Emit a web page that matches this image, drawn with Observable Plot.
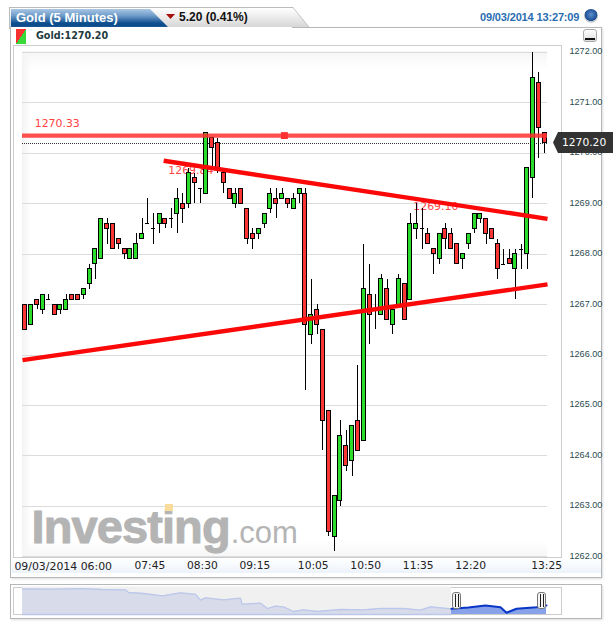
<!DOCTYPE html>
<html><head><meta charset="utf-8">
<script src="https://cdn.jsdelivr.net/npm/d3@7"></script>
<script src="https://cdn.jsdelivr.net/npm/@observablehq/plot@0.6"></script>
<style>
html,body{margin:0;padding:0;background:#fff}
#root{position:relative;width:613px;height:627px;overflow:hidden;background:#fff;font-family:"Liberation Sans",Arial,sans-serif}
#root>div,#root>svg,#root>figure{position:absolute;box-sizing:border-box;margin:0}
#root svg{background:transparent}
.wm{letter-spacing:-0.9px}
</style></head><body><div id="root">
<div style="left:9px;top:7px;width:302px;height:22px;background:#b9bcbc;clip-path:polygon(0 0,284px 0,100% 100%,0 100%);"></div>
<div style="left:10px;top:8px;width:300px;height:21px;background:linear-gradient(#fff,#d2d2d2);clip-path:polygon(0 0,283px 0,100% 100%,0 100%);"></div>
<div style="left:11px;top:9px;width:158px;height:19px;background:linear-gradient(#a9c6e4,#6f9cc9 35%,#0d4e8e 75%,#0a4a8a);clip-path:polygon(0 0,139px 0,100% 100%,0 100%);"></div>
<div style="left:16px;top:8px;height:19px;line-height:19px;color:#fff;font-weight:bold;font-size:13px;white-space:nowrap">Gold (5 Minutes)</div>
<div style="left:166px;top:14px;width:9px;height:5px;background:#a80f0f;clip-path:polygon(0 0,100% 0,50% 100%)"></div>
<div style="left:179px;top:8px;height:19px;line-height:19px;color:#111;font-weight:bold;font-size:12px;white-space:nowrap">5.20 (0.41%)</div>
<div style="left:480px;top:10px;height:14px;line-height:14px;color:#2a6db0;font-size:11px;font-weight:bold;white-space:nowrap;letter-spacing:-.15px">09/03/2014 13:27:09</div>
<div style="left:584px;top:9px;width:14px;height:14px;border-radius:50%;background:radial-gradient(circle at 50% 40%,#5a8fd0,#1d4d92 55%,#c4c8cc 62%,#eee)"></div>
<div style="left:10px;top:27px;width:592px;height:551px;border:1.4px solid #b4b8b8;border-top-color:#b4b8b8;background:#fff;box-shadow:1px 1px 2px #ddd"></div>
<div style="left:11px;top:27px;width:281px;height:2px;background:#fff"></div>
<div style="left:583px;top:29px;width:14px;height:13px;border:1px solid #aaa;border-radius:3px;background:linear-gradient(#fff,#ddd)"></div>
<div style="left:585px;top:38px;width:10px;height:2px;background:#111"></div>
<div style="left:16px;top:29px;width:10px;height:15px;background:linear-gradient(to bottom right,#f83030 50%,#38d838 50%)"></div>
<div style="left:36px;top:29px;height:14px;line-height:14px;color:#1f3a40;font-family:'DejaVu Sans';font-weight:bold;font-size:9.6px;white-space:nowrap">Gold:1270.20</div>
<div style="left:12px;top:558px;width:589px;height:15px;background:linear-gradient(#fff,#edf3fb)"></div>
<div style="left:12.5px;top:45px;width:549px;height:513px;border:1px solid #ccc;background:#fff"></div>
<div style="left:22px;top:51px;width:525px;height:506px;background:linear-gradient(to right,#f3f3f3,#fff 9px)"></div>
<div style="left:22px;top:51px;width:525px;height:18px;background:linear-gradient(#f5f5f5,rgba(255,255,255,0))"></div>
<div style="left:22px;top:541px;width:525px;height:16px;background:linear-gradient(rgba(255,255,255,0),#f6f6f6)"></div>
<div style="left:10px;top:584px;width:592px;height:35px;border:1.4px solid #b4b8b8;background:#fff;box-shadow:1px 1px 2px #ddd"></div>
<div style="left:12.5px;top:587px;width:549px;height:28px;border:1px solid #ccc;background:#fff"></div>
<div id="main" style="left:0;top:0"></div>
<div id="mini" style="left:0;top:582px"></div>
<div style="left:165px;top:504px;width:8px;height:7px;background:#f9dc9a"></div>
<div style="left:452px;top:592px;width:9px;height:17px;border:1px solid #777;border-radius:3px;background:#f4f4f4"></div>
<div style="left:454.5px;top:594px;width:4px;height:13px;border-left:1px solid #222;border-right:1px solid #222;"></div>
<div style="left:537px;top:592px;width:9px;height:17px;border:1px solid #777;border-radius:3px;background:#f4f4f4"></div>
<div style="left:539.5px;top:594px;width:4px;height:13px;border-left:1px solid #222;border-right:1px solid #222;"></div>
<div style="left:553px;top:132px;width:60px;height:21px;background:#333;clip-path:polygon(0 50%,5px 0,100% 0,100% 100%,5px 100%);color:#fff;font-family:'DejaVu Sans';font-size:10.7px;line-height:21px;padding-left:9px;white-space:nowrap">1270.20</div>
</div>
<script>
const GREEN = "#2bdc2b", RED = "#fb3434";
// candle values, index 0 = 06:00, one candle per five minutes
const opens = [1267.0,1266.6,1267.1,1266.9,1267.1,1267.0,1266.9,1266.9,1267.2,1267.2,
1267.2,1267.4,1267.8,1267.9,1268.6,1268.6,1268.3,1268.1,1267.9,1267.9,
1268.3,1268.6,1268.5,1268.6,1268.7,1268.7,1268.8,1269.0,1269.0,1269.5,
1269.3,1269.2,1270.3,1270.2,1269.6,1269.3,1269.0,1269.3,1268.9,1268.4,
1268.4,1268.6,1268.9,1269.1,1269.1,1269.1,1268.9,1269.2,1269.2,1266.4,
1266.9,1266.5,1264.9,1262.4,1263.1,1264.2,1263.9,1264.7,1264.3,1267.2,
1266.9,1266.8,1267.3,1266.6,1267.0,1267.4,1267.1,1268.5,1268.5,1268.4,
1268.1,1267.9,1268.5,1268.4,1268.2,1267.9,1268.2,1268.5,1268.7,1268.7,
1268.5,1268.2,1267.8,1267.9,1267.7,1268.1,1268.0,1269.5,1271.4,1270.4];
const closes = [1266.5,1267.0,1267.0,1267.2,1267.1,1266.8,1267.0,1267.1,1267.1,1267.1,
1267.3,1267.7,1268.1,1268.7,1268.5,1268.1,1268.2,1268.0,1268.1,1268.2,
1268.4,1268.6,1268.5,1268.8,1268.6,1268.7,1269.1,1268.9,1269.6,1269.4,
1269.3,1270.4,1270.1,1269.7,1269.4,1269.1,1269.2,1269.0,1268.3,1268.3,
1268.5,1268.8,1269.2,1269.0,1269.2,1269.0,1269.1,1269.3,1266.6,1266.8,
1266.6,1264.7,1262.5,1263.2,1264.4,1263.8,1264.6,1264.1,1267.3,1266.8,
1266.9,1267.5,1266.7,1266.9,1267.5,1266.7,1268.6,1268.6,1268.5,1268.2,
1268.0,1268.4,1268.3,1268.1,1267.8,1268.0,1268.4,1268.8,1268.8,1268.4,
1268.3,1267.7,1267.8,1267.8,1268.0,1268.1,1269.7,1271.5,1270.5,1270.2];
const highs = [1267.0,1267.0,1267.1,1267.2,1267.2,1267.0,1267.0,1267.2,1267.2,1267.2,
1267.3,1267.8,1268.1,1268.7,1268.7,1268.6,1268.3,1268.1,1268.1,1268.4,
1268.7,1269.1,1268.8,1268.8,1268.7,1268.9,1269.3,1269.2,1269.7,1269.6,
1269.3,1270.4,1270.3,1270.3,1269.7,1269.3,1269.3,1269.3,1268.9,1268.5,
1268.5,1268.8,1269.3,1269.3,1269.3,1269.1,1269.2,1269.3,1269.3,1267.5,
1267.0,1266.5,1264.9,1263.2,1264.7,1264.5,1264.6,1265.8,1268.2,1267.8,
1267.2,1267.6,1267.5,1266.9,1267.6,1267.4,1268.8,1269.0,1268.9,1268.5,
1268.1,1268.4,1268.6,1268.5,1268.2,1268.0,1268.4,1268.8,1268.8,1268.7,
1268.5,1268.3,1268.1,1268.1,1268.1,1268.2,1269.7,1272.0,1271.6,1270.4];
const lows = [1266.5,1266.6,1266.9,1266.8,1267.1,1266.8,1266.8,1266.9,1267.1,1267.1,
1267.1,1267.3,1267.5,1267.9,1268.2,1268.1,1268.1,1267.9,1267.9,1267.9,
1268.3,1268.6,1268.2,1268.4,1268.5,1268.5,1268.4,1268.6,1268.9,1269.0,
1269.0,1269.2,1269.7,1269.6,1269.2,1269.1,1268.9,1269.0,1268.2,1268.1,
1268.3,1268.5,1268.8,1268.7,1269.1,1268.9,1268.9,1269.0,1265.3,1266.2,
1266.4,1264.1,1262.4,1262.1,1263.0,1263.7,1263.6,1264.1,1264.3,1266.2,
1266.5,1266.8,1266.7,1266.4,1267.0,1266.7,1267.1,1268.3,1268.1,1268.2,
1267.6,1267.8,1268.1,1268.1,1267.8,1267.7,1268.1,1268.4,1268.6,1268.2,
1268.3,1267.5,1267.8,1267.8,1267.1,1267.7,1267.7,1269.1,1269.9,1270.0];

const priceTicks = [1262,1263,1264,1265,1266,1267,1268,1269,1270,1271,1272];
const timeTicks = [21,30,39,49,58,67,76,89];
const timeLabels = ["07:45","08:30","09:15","10:05","10:50","11:35","12:20","13:25"];
const firstLabel = "09/03/2014 06:00";

const levelValue = 1270.35, lastPrice = 1270.20, handleIndex = 44.4;
const trendX1 = [23.7,-0.5], trendY1 = [1269.85,1265.90];
const trendX2 = [89.5,89.5], trendY2 = [1268.70,1267.40];
const noteText = ["1270.33","1269.84","1269.10"];
const noteX = [1.6,24.5,66.5];
const noteY = [1270.59,1269.66,1268.94];

const candles = opens.map((o,i)=>({i,o,c:closes[i],h:highs[i],l:lows[i]}));
const bodies = candles.filter(d=>d.o!==d.c);
const dojis = candles.filter(d=>d.o===d.c);
const hw = 0.343;
const notes = noteText.map((t,k)=>({t,x:noteX[k],y:noteY[k]}));
const trends = trendX1.map((x,k)=>({x1:x,y1:trendY1[k],x2:trendX2[k],y2:trendY2[k]}));

const main = Plot.plot({
  width:613,height:627,
  marginLeft:22,marginRight:66,marginTop:51.8,marginBottom:70.6,
  style:{background:"transparent",overflow:"visible"},
  x:{domain:[-0.5,89.5],axis:null},
  y:{domain:[1262,1272],axis:null},
  marks:[
    Plot.gridY(priceTicks,{stroke:"#dcdcdc",strokeOpacity:1,strokeWidth:1,shapeRendering:"crispEdges"}),
    Plot.text(["Investing"],{x:-0.5,y:1262.27,text:d=>d,dx:9,textAnchor:"start",lineAnchor:"bottom",fontFamily:"Liberation Sans",fontWeight:"bold",fontSize:47,fill:"#b4b4b4",stroke:"#b4b4b4",strokeWidth:1,className:"wm"}),
    Plot.text([".com"],{x:35.2,y:1262.27,text:d=>d,textAnchor:"start",lineAnchor:"bottom",fontFamily:"Liberation Sans",fontSize:31,fill:"#b4b4b4"}),
    Plot.text(notes,{x:"x",y:"y",text:"t",textAnchor:"start",fill:"#ff4444",fontFamily:"DejaVu Sans",fontSize:10.9}),
    Plot.ruleY([lastPrice],{stroke:"#333",strokeDasharray:"1,1",strokeWidth:1,shapeRendering:"crispEdges"}),
    Plot.ruleX(candles,{x:"i",y1:"l",y2:"h",stroke:"#000",strokeWidth:1,shapeRendering:"crispEdges"}),
    Plot.rect(bodies,{x1:d=>d.i-hw,x2:d=>d.i+hw,y1:"o",y2:"c",fill:d=>d.c>d.o?GREEN:RED,stroke:"#000",strokeWidth:1,shapeRendering:"crispEdges"}),
    Plot.ruleY(dojis,{x1:d=>d.i-hw,x2:d=>d.i+hw,y:"c",stroke:"#000",strokeWidth:1,shapeRendering:"crispEdges"}),
    Plot.ruleY([levelValue],{stroke:"#ff3030",strokeOpacity:0.85,strokeWidth:4.2}),
    Plot.dot([handleIndex],{x:d=>d,y:levelValue,symbol:"square",r:3.9,fill:"#ff3030",stroke:"none"}),
    Plot.link(trends,{x1:"x1",y1:"y1",x2:"x2",y2:"y2",stroke:"#fb0808",strokeWidth:4.4,strokeLinecap:"butt"}),
    Plot.axisY({anchor:"right",ticks:priceTicks,tickSize:0,tickPadding:22,tickFormat:d=>d.toFixed(2),label:null,fontSize:9.1,fontFamily:"Liberation Sans",fill:"#2b4a50",dy:-1}),
    Plot.axisX({anchor:"bottom",ticks:timeTicks,tickSize:0,tickPadding:4,tickFormat:d=>timeLabels[timeTicks.indexOf(d)],label:null,fontSize:10.7,fontFamily:"DejaVu Sans",fill:"#222",dx:2}),
    Plot.text([firstLabel],{x:0,frameAnchor:"bottom",lineAnchor:"middle",text:d=>d,dx:-11,dy:9.3,textAnchor:"start",fontSize:10.9,fontFamily:"DejaVu Sans",fill:"#222"})
  ]
});
document.getElementById("main").appendChild(main);

// overview strip, readings of the whole history
const overviewX = [0,30,60,80,103,106,121,140,158,171,173,178,183,201,218,219.5,238,245,253,261,271,281,295,318,341,358,381,398,408,429,446,463,478,484,494,514,524];
const overviewY = [25.5,25.3,25.8,25,24.7,22,21,18.7,21.7,20.3,20.3,14.3,16.7,14.7,16.3,10.3,11.3,6,8.3,7.7,3,4.7,3,5,4.7,6,6,4.3,7.7,5.7,7,9,7.3,1.7,5.7,7.3,9];
const selectionStart = 429, selectionEnd = 524;
const overview = overviewX.map((x,k)=>({x,y:overviewY[k]}));
const past = overview.filter(d=>d.x<=selectionStart);
const selected = overview.filter(d=>d.x>=selectionStart);
const mini = Plot.plot({
  width:613,height:40,
  marginLeft:22,marginRight:67,marginTop:2,marginBottom:8,
  style:{background:"transparent",overflow:"visible"},
  x:{domain:[0,524],axis:null},
  y:{domain:[0,30],axis:null},
  marks:[
    Plot.rectX([0],{x1:0,x2:selectionStart,y1:0,y2:27.5,fill:"#f0f0f0"}),
    Plot.areaY(past,{x:"x",y:"y",fill:"#d8dcea"}),
    Plot.lineY(past,{x:"x",y:"y",stroke:"#bcc8ea",strokeWidth:1.3}),
    Plot.ruleY([0],{x1:0,x2:selectionStart,stroke:"#bcc8ea",strokeWidth:1.3}),
    Plot.areaY(selected,{x:"x",y:"y",fill:"#87a2e8"}),
    Plot.lineY(selected,{x:"x",y:"y",stroke:"#0a36c8",strokeWidth:2})
  ]
});
document.getElementById("mini").appendChild(mini);
</script>
</body></html>
